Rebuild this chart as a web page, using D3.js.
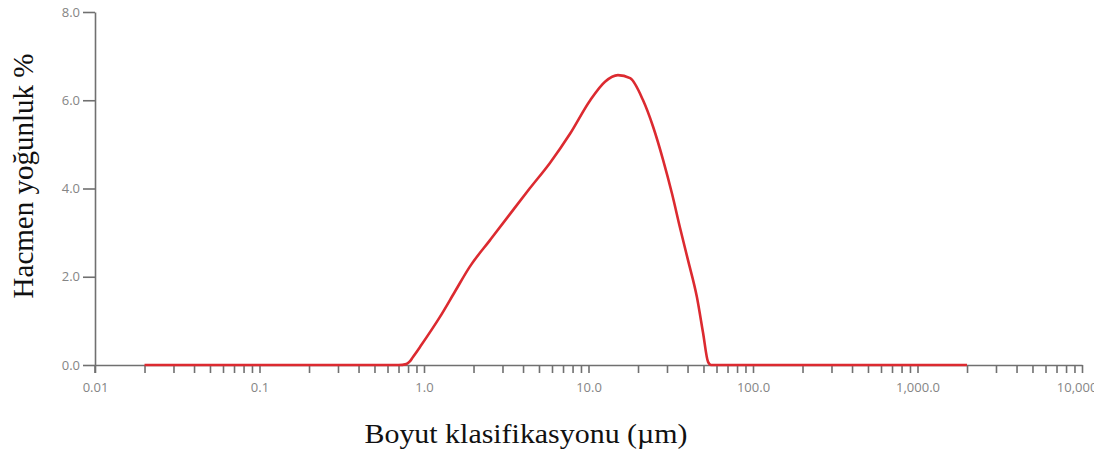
<!DOCTYPE html>
<html>
<head>
<meta charset="utf-8">
<script src="https://cdn.jsdelivr.net/npm/d3@7"></script>
<style>
  html, body { margin: 0; padding: 0; background: #fff; }
  svg { display: block; }
</style>
</head>
<body>
<svg id="chart" width="1094" height="459"></svg>
<script>
// Particle size (µm) and volume density (%)
const sizes  = [0.02, 0.1, 0.5, 0.7, 0.78, 0.82, 0.857, 0.946, 1.25, 1.54, 1.9, 2.52, 3.33, 4.41, 5.83, 7.72, 10.2, 12.6, 15.1, 17.9, 21.4, 24.7, 28.4, 32.2, 36.0, 40.3, 45.6, 49.7, 53.3, 55.6, 100, 1000, 2000];
const volume = [0, 0, 0, 0, 0.02, 0.08, 0.18, 0.41, 1.09, 1.66, 2.23, 2.83, 3.42, 4.01, 4.58, 5.24, 5.99, 6.42, 6.57, 6.50, 6.01, 5.40, 4.65, 3.88, 3.11, 2.37, 1.54, 0.73, 0.07, 0, 0, 0, 0];

const xTickValues = [0.01, 0.1, 1, 10, 100, 1000, 10000];
const xTickLabels = ["0.01", "0.1", "1.0", "10.0", "100.0", "1,000.0", "10,000.0"];
const yTickValues = [0, 2, 4, 6, 8];
const yTickLabels = ["0.0", "2.0", "4.0", "6.0", "8.0"];

const xTitle = "Boyut klasifikasyonu (µm)";
const yTitle = "Hacmen yoğunluk %";

const svg = d3.select("#chart");
const plotLeft = 95, plotRight = 1082, plotTop = 12, plotBottom = 365;

const x = d3.scaleLog().domain([0.01, 10000]).range([plotLeft, plotRight]);
const y = d3.scaleLinear().domain([0, 8]).range([plotBottom, plotTop]);

const axisColor = "#707070";
const labelColor = "#858585";

// Minor ticks 2..9 in each decade plus the decade ticks
const minorTicks = [];
for (let e = -2; e < 4; e++) {
  for (let m = 2; m <= 9; m++) minorTicks.push(m * Math.pow(10, e));
}

const xAxis = d3.axisBottom(x)
  .tickValues(xTickValues.concat(minorTicks))
  .tickSize(8)
  .tickSizeOuter(0)
  .tickFormat(d => {
    const i = xTickValues.indexOf(d);
    return i >= 0 ? xTickLabels[i] : "";
  });

const gx = svg.append("g")
  .attr("transform", `translate(0,${plotBottom})`)
  .call(xAxis);
gx.select(".domain").attr("stroke", axisColor).attr("stroke-width", 1.6);
gx.selectAll(".tick line").attr("stroke", axisColor).attr("stroke-width", 1.6);
gx.selectAll(".tick text")
  .attr("fill", labelColor)
  .attr("font-family", "'Open Sans', sans-serif")
  .attr("font-size", 13)
  .attr("y", 18)
  .attr("dy", "0.71em");

const yAxis = d3.axisLeft(y)
  .tickValues(yTickValues)
  .tickSize(12)
  .tickSizeOuter(0)
  .tickFormat((d, i) => yTickLabels[i]);

const gy = svg.append("g")
  .attr("transform", `translate(${plotLeft},0)`)
  .call(yAxis);
gy.select(".domain").attr("stroke", axisColor).attr("stroke-width", 1.6);
gy.selectAll(".tick line").attr("stroke", axisColor).attr("stroke-width", 1.6);
gy.selectAll(".tick text")
  .attr("fill", labelColor)
  .attr("font-family", "'Open Sans', sans-serif")
  .attr("font-size", 13)
  .attr("x", -15);

// Short extension of the y axis below the baseline
svg.append("line")
  .attr("x1", plotLeft).attr("x2", plotLeft)
  .attr("y1", plotBottom).attr("y2", plotBottom + 8)
  .attr("stroke", axisColor).attr("stroke-width", 1.6);

// Distribution curve
const points = sizes.map((s, i) => [s, volume[i]]);
const line = d3.line()
  .x(d => x(d[0]))
  .y(d => y(d[1]))
  .curve(d3.curveMonotoneX);

svg.append("path")
  .datum(points)
  .attr("d", line)
  .attr("fill", "none")
  .attr("stroke", "#dc2a30")
  .attr("stroke-width", 2.6)
  .attr("stroke-linejoin", "round");

// Axis titles
svg.append("text")
  .attr("x", 526)
  .attr("y", 443)
  .attr("text-anchor", "middle")
  .attr("font-family", "'Liberation Serif', 'Times New Roman', serif")
  .attr("font-size", 28)
  .attr("fill", "#111")
  .attr("textLength", 323)
  .attr("lengthAdjust", "spacingAndGlyphs")
  .text(xTitle);

svg.append("text")
  .attr("transform", "translate(33,176) rotate(-90)")
  .attr("text-anchor", "middle")
  .attr("font-family", "'Liberation Serif', 'Times New Roman', serif")
  .attr("font-size", 29)
  .attr("fill", "#111")
  .text(yTitle);
</script>
</body>
</html>
